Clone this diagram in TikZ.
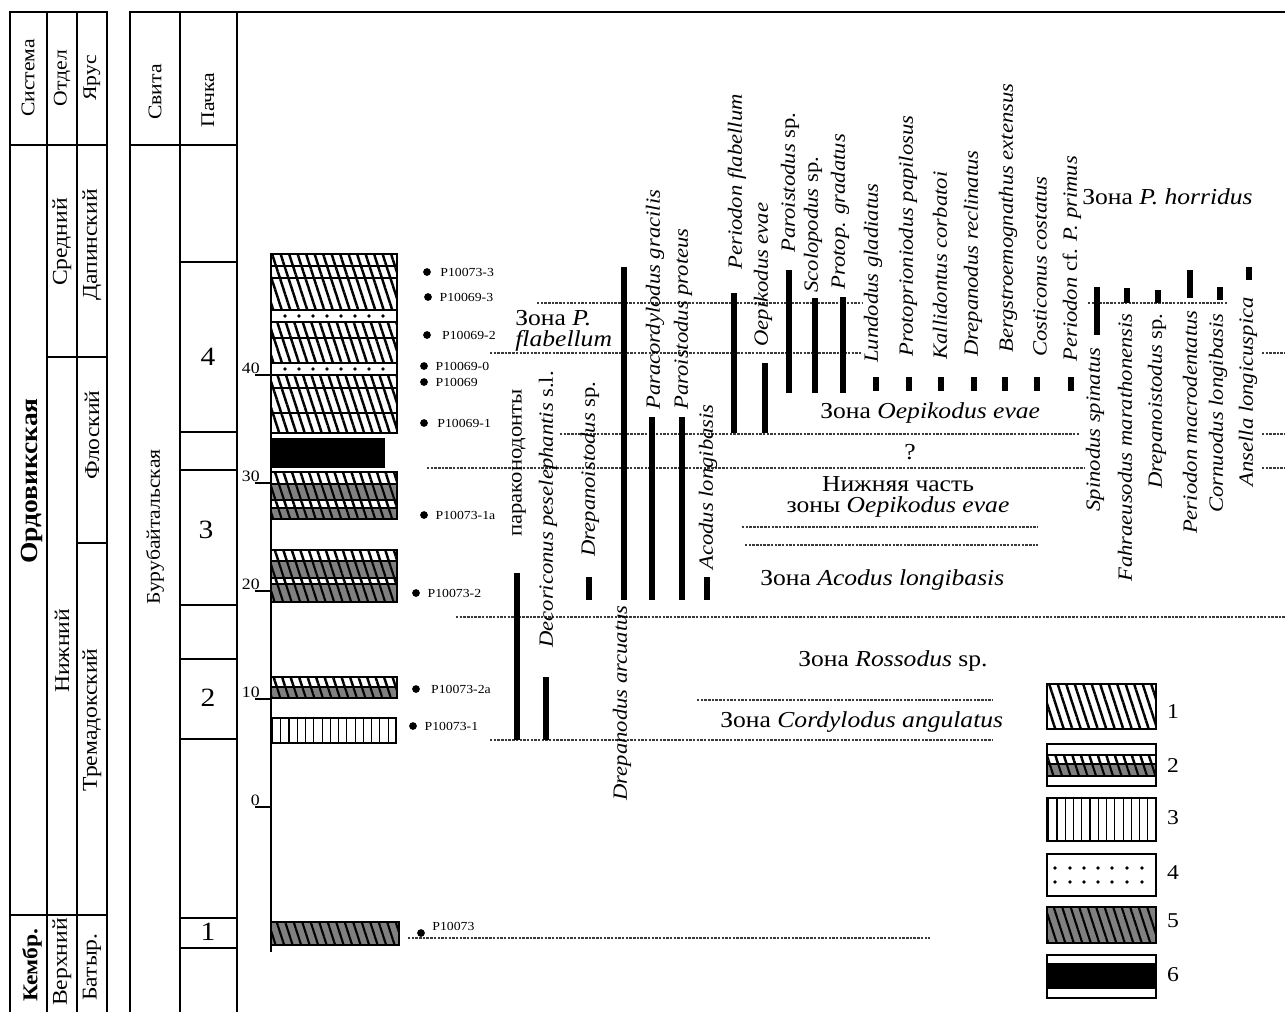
\documentclass[tikz,border=0pt]{standalone}
\usepackage{fontspec}
\setmainfont{Liberation Serif}[FakeStretch=1.12]
\usetikzlibrary{positioning, patterns.meta}
\definecolor{HatchGray}{HTML}{808080}
\definecolor{ZoneGray}{HTML}{3A3A3A}
\newcommand{\taxfont}{\fontsize{11.5}{12}\selectfont\itshape}
\newcommand{\zonefont}{\fontsize{13}{14}\selectfont}
\newcommand{\smallfont}{\fontsize{7}{8}\selectfont}
\newcommand{\headfont}{\fontsize{11}{12}\selectfont}
\newcommand{\stagefont}{\fontsize{12}{13}\selectfont}
\tikzset{
  boxline/.style={line width=1.3pt},
  thinrule/.style={line width=0.6pt},
  zoneline/.style={ZoneGray, line width=0.8pt, dash pattern=on 1.4pt off 0.7pt},
  rangebar/.style={line width=2.9pt},
  taxon/.style={rotate=90, inner sep=0pt, font=\taxfont},
  zonelabel/.style={inner sep=0pt, font=\zonefont},
  colhead/.style={rotate=90, inner sep=0pt, font=\headfont},
  stage/.style={rotate=90, inner sep=0pt, font=\stagefont},
  sdot/.style={circle, fill=black, inner sep=0pt, minimum size=4.4pt},
  slabel/.style={inner sep=0pt, font=\smallfont},
  bed/.style={draw, line width=0.8pt},
  bedone/.style={bed, preaction={fill=white}, pattern={Lines[angle=108, distance=4.6pt, line width=1.4pt]}},
  bedfive/.style={bed, preaction={fill=HatchGray}, pattern={Lines[angle=108, distance=4.6pt, line width=1.2pt]}},
  bedthree/.style={bed, pattern={Lines[angle=90, distance=4.7pt, line width=0.6pt]}},
  bedsix/.style={bed, fill=black},
  legnum/.style={inner sep=0pt, font=\fontsize{12}{13}\selectfont},
}

\begin{document}
\begin{tikzpicture}[x=0.02cm, y=-0.02cm]
    \useasboundingbox (0,0) rectangle (1285,1012);

    % Stratigraphic table
    \draw[boxline] (10,1012) -- (10,12) -- (107,12) -- (107,1012);
    \draw[thinrule] (47,12) -- (47,1012);
    \draw[thinrule] (77,12) -- (77,1012);
    \draw[boxline] (10,145) -- (107,145);
    \draw[thinrule] (47,357) -- (107,357);
    \draw[thinrule] (77,543) -- (107,543);
    \draw[thinrule] (10,915) -- (107,915);

    \node[colhead] (sys) at (28,78) {Система};
    \node[colhead] (dep) at (62,78) {Отдел};
    \node[colhead] (stg) at (92,78) {Ярус};
    \node[rotate=90, inner sep=0pt, font=\fontsize{14}{15}\selectfont\bfseries] (ord) at (32,481) {Ордовикская};
    \node[rotate=90, inner sep=0pt, font=\fontsize{12}{13}\selectfont\bfseries] (camb) at (32,965) {Кембр.};
    \node[stage] (mid) at (62,242) {Средний};
    \node[stage] (low) at (62,651) {Нижний};
    \node[stage] (up) at (62,962) {Верхний};
    \node[stage] (dap) at (92,245) {Дапинский};
    \node[stage] (flo) at (92,435) {Флоский};
    \node[stage] (trem) at (92,720) {Тремадокский};
    \node[stage] (bat) at (92,967) {Батыр.};

    % Formation and member columns
    \draw[boxline] (130,1012) -- (130,12) -- (1285,12);
    \draw[thinrule] (180,12) -- (180,1012);
    \draw[thinrule] (237,12) -- (237,1012);
    \draw[boxline] (130,145) -- (237,145);
    \foreach \yy in {262,432,470,605,659,739,918,948}
        \draw[thinrule] (180,\yy) -- (237,\yy);

    \node[colhead] (svita) at (155,92) {Свита};
    \node[colhead] (pachka) at (208,100) {Пачка};
    \node[stage, font=\fontsize{11}{12}\selectfont] (burub) at (155,527) {Бурубайтальская};
    \node[inner sep=0pt, font=\fontsize{15}{16}\selectfont] (m4) at (208,357) {4};
    \node[inner sep=0pt, font=\fontsize{15}{16}\selectfont] (m3) at (206,530) {3};
    \node[inner sep=0pt, font=\fontsize{15}{16}\selectfont] (m2) at (208,698) {2};
    \node[inner sep=0pt, font=\fontsize{15}{16}\selectfont] (m1) at (208,932) {1};

    % Lithology column
    \path[bedone] (271,254) rectangle (397,266);
    \path[bedone] (271,266) rectangle (397,278);
    \path[bedone] (271,278) rectangle (397,310);
    \path[bed] (271,310) rectangle (397,322);
    \path[bedone] (271,322) rectangle (397,338);
    \path[bedone] (271,338) rectangle (397,363);
    \path[bed] (271,363) rectangle (397,375);
    \path[bedone] (271,375) rectangle (397,388);
    \path[bedone] (271,388) rectangle (397,413);
    \path[bedone] (271,413) rectangle (397,433);
    \foreach \xx in {285,299,313,327,341,355,369,383} {
        \fill (\xx,316) circle (1.1pt);
        \fill (\xx,369) circle (1.1pt);
    }
    \path[bedsix] (271,439) rectangle (384,467);
    \path[bedone] (271,472) rectangle (397,484);
    \path[bedfive] (271,484) rectangle (397,500);
    \path[bedone] (271,500) rectangle (397,508);
    \path[bedfive] (271,508) rectangle (397,519);
    \path[bedone] (271,550) rectangle (397,561);
    \path[bedfive] (271,561) rectangle (397,578);
    \path[bedone] (271,578) rectangle (397,584);
    \path[bedfive] (271,584) rectangle (397,602);
    \path[bedone] (271,677) rectangle (397,687);
    \path[bedfive] (271,687) rectangle (397,698);
    \path[bedthree] (271,718) rectangle (396,743);
    \path[bedfive] (271,922) rectangle (399,945);

    % Depth scale
    \draw[boxline] (271,254) -- (271,952);
    \foreach \m/\yy in {40/375,30/483,20/591,10/699,0/807} {
        \draw[thinrule] (255,\yy) -- (271,\yy);
        \node[anchor=south east, inner sep=0pt, font=\fontsize{9}{10}\selectfont] (tick\m) at (260,\yy-1) {\m};
    }

    % Samples
    \node[sdot] (s1) at (427,272) {};
    \node[slabel, right=5pt of s1] (l1) {P10073-3};
    \node[sdot] (s2) at (428,297) {};
    \node[slabel, right=4pt of s2] (l2) {P10069-3};
    \node[sdot] (s3) at (427,335) {};
    \node[slabel, right=6pt of s3] (l3) {P10069-2};
    \node[sdot] (s4) at (424,366) {};
    \node[slabel, right=4pt of s4] (l4) {P10069-0};
    \node[sdot] (s5) at (424,382) {};
    \node[slabel, right=4pt of s5] (l5) {P10069};
    \node[sdot] (s6) at (424,423) {};
    \node[slabel, right=5pt of s6] (l6) {P10069-1};
    \node[sdot] (s7) at (424,515) {};
    \node[slabel, right=4pt of s7] (l7) {P10073-1a};
    \node[sdot] (s8) at (416,593) {};
    \node[slabel, right=4pt of s8] (l8) {P10073-2};
    \node[sdot] (s9) at (416,689) {};
    \node[slabel, right=6pt of s9] (l9) {P10073-2a};
    \node[sdot] (s10) at (413,726) {};
    \node[slabel, right=4pt of s10] (l10) {P10073-1};
    \node[sdot] (s11) at (421,933) {};
    \node[slabel, anchor=west] (l11) at (432,926) {P10073};

    % Zone boundaries
    \foreach \xa/\xb/\yy in {537/862/303, 1088/1228/303, 490/862/353, 1262/1285/353,
                             560/1080/434, 1262/1285/434, 427/1085/468, 1262/1285/468,
                             742/1038/527, 745/1038/545, 456/1285/617, 697/993/700,
                             490/993/740, 408/930/938}
        \draw[zoneline] (\xa,\yy) -- (\xb,\yy);

    % Ranges
    \foreach \xx/\ya/\yb in {517/573/740, 546/677/740, 589/577/600, 624/267/600, 652/417/600,
                             682/417/600, 707/577/600, 734/293/433, 765/363/433, 789/270/393,
                             815/298/393, 843/297/393, 876/377/391, 909/377/391, 941/377/391,
                             974/377/391, 1005/377/391, 1037/377/391, 1071/377/391,
                             1097/287/335, 1127/288/303, 1158/290/303, 1190/270/298,
                             1220/287/300, 1249/267/280}
        \draw[rangebar] (\xx,\ya) -- (\xx,\yb);

    % Taxa
    \node[taxon, anchor=west, font=\taxfont\upshape] (paracon) at (519,537) {параконодонты};
    \node[taxon, anchor=west] (decor) at (548,648) {Decoriconus peselephantis \upshape s.l.};
    \node[taxon, anchor=west] (drepsp) at (590,557) {Drepanoistodus \upshape sp.};
    \node[taxon, anchor=east] (drarc) at (622,605) {Drepanodus arcuatus};
    \node[taxon, anchor=west] (paracor) at (655,410) {Paracordylodus gracilis};
    \node[taxon, anchor=west] (parprot) at (683,410) {Paroistodus proteus};
    \node[taxon, anchor=west] (acodus) at (708,570) {Acodus longibasis};
    \node[taxon, anchor=west] (perfl) at (737,270) {Periodon flabellum};
    \node[taxon, anchor=west] (oepev) at (763,347) {Oepikodus evae};
    \node[taxon, anchor=west] (parsp) at (790,253) {Paroistodus \upshape sp.};
    \node[taxon, anchor=west] (scol) at (813,293) {Scolopodus \upshape sp.};
    \node[taxon, anchor=west] (protop) at (840,290) {Protop. gradatus};
    \node[taxon, anchor=west] (lund) at (873,363) {Lundodus gladiatus};
    \node[taxon, anchor=west] (protpr) at (908,357) {Protoprioniodus papilosus};
    \node[taxon, anchor=west] (kall) at (940,360) {Kallidontus corbatoi};
    \node[taxon, anchor=west] (drrec) at (973,357) {Drepanodus reclinatus};
    \node[taxon, anchor=west] (berg) at (1008,353) {Bergstroemognathus extensus};
    \node[taxon, anchor=west] (cost) at (1040,357) {Costiconus costatus};
    \node[taxon, anchor=west] (perpr) at (1072,362) {Periodon {\upshape cf.} P. primus};
    \node[taxon, anchor=east] (spin) at (1095,347) {Spinodus spinatus};
    \node[taxon, anchor=east] (fahr) at (1125,313) {Fahraeusodus marathonensis};
    \node[taxon, anchor=east] (drepsp2) at (1157,313) {Drepanoistodus \upshape sp.};
    \node[taxon, anchor=east] (permac) at (1190,310) {Periodon macrodentatus};
    \node[taxon, anchor=east] (corn) at (1218,313) {Cornuodus longibasis};
    \node[taxon, anchor=east] (ans) at (1248,297) {Ansella longicuspica};

    % Zones
    \node[zonelabel, anchor=west, align=left] (zfl) at (515,331) {Зона \textit{P.}\\[-2pt]\textit{flabellum}};
    \node[zonelabel, anchor=west] (zhor) at (1082,197) {Зона \textit{P. horridus}};
    \node[zonelabel, anchor=west] (zoep) at (820,413) {Зона \textit{Oepikodus evae}};
    \node[zonelabel] (zq) at (910,452) {?};
    \node[zonelabel, align=center] (zlow) at (898,497) {Нижняя часть\\[-2pt]зоны \textit{Oepikodus evae}};
    \node[zonelabel, anchor=west] (zaco) at (760,580) {Зона \textit{Acodus longibasis}};
    \node[zonelabel, anchor=west] (zros) at (798,661) {Зона \textit{Rossodus} sp.};
    \node[zonelabel, anchor=west] (zcor) at (720,722) {Зона \textit{Cordylodus angulatus}};

    % Legend
    \path[bedone] (1047,684) rectangle (1156,729);
    \node[legnum] (n1) at (1173,712) {1};
    \path[bed] (1047,744) rectangle (1156,786);
    \path[bedone] (1047,755) rectangle (1156,764);
    \path[bedfive] (1047,764) rectangle (1156,776);
    \node[legnum] (n2) at (1173,766) {2};
    \path[bedthree] (1047,798) rectangle (1156,841);
    \node[legnum] (n3) at (1173,818) {3};
    \path[bed] (1047,854) rectangle (1156,896);
    \foreach \xx in {1055,1070,1084,1098,1112,1127,1142} {
        \fill (\xx,868) circle (1.1pt);
        \fill (\xx,882) circle (1.1pt);
    }
    \node[legnum] (n4) at (1173,873) {4};
    \path[bedfive] (1047,907) rectangle (1156,943);
    \node[legnum] (n5) at (1173,921) {5};
    \path[bed] (1047,955) rectangle (1156,998);
    \path[bedsix] (1047,964) rectangle (1156,988);
    \node[legnum] (n6) at (1173,975) {6};
\end{tikzpicture}
\end{document}
